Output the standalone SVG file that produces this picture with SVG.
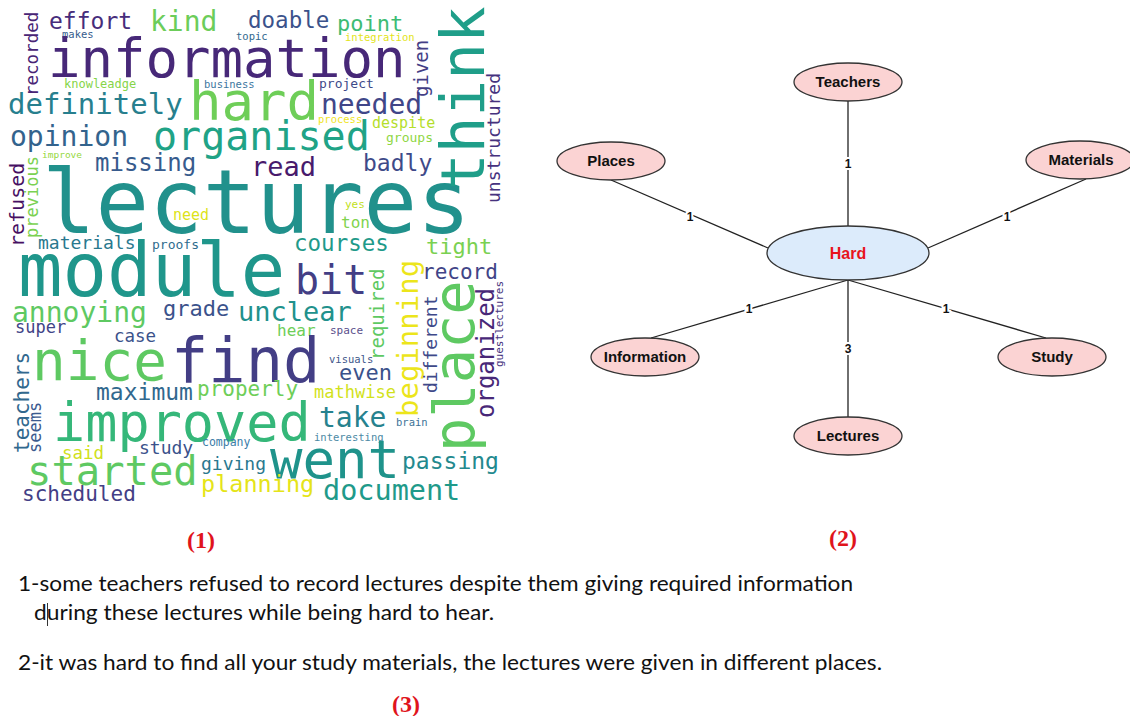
<svg xmlns="http://www.w3.org/2000/svg" width="1130" height="716" viewBox="0 0 1130 716">
<style>
.wc{font-family:"DejaVu Sans Mono","Liberation Mono",monospace}
.nd{fill:#fbd3d3;stroke:#333;stroke-width:1.3}
.hd{fill:#dcebfb;stroke:#333;stroke-width:1.3}
.nt{font-family:"Liberation Sans",Arial,sans-serif;font-weight:bold;font-size:15px;fill:#111;text-anchor:middle}
.ht{font-family:"Liberation Sans",Arial,sans-serif;font-weight:bold;font-size:16px;fill:#e8141c;text-anchor:middle}
.el{stroke:#222;stroke-width:1.3;fill:none}
.lb{font-family:"Liberation Sans",Arial,sans-serif;font-weight:bold;font-size:12px;fill:#111;text-anchor:middle;stroke:#fff;stroke-width:4;paint-order:stroke}
.cap{font-family:"Liberation Serif","Times New Roman",serif;font-weight:bold;font-size:24px;fill:#e0141c;text-anchor:middle}
.body{font-family:Lato,"Open Sans",sans-serif;font-size:21px;fill:#111}
</style>
<rect width="1130" height="716" fill="#fff"/>
<g id="wordcloud" class="wc">
<text x="49" y="29" style="font-size:23px;fill:#472d7b">effort</text>
<text x="150" y="31" style="font-size:28px;fill:#6ccd5a">kind</text>
<text x="248" y="28" style="font-size:22.5px;fill:#3b528b">doable</text>
<text x="337" y="31" style="font-size:22px;fill:#3dbc74">point</text>
<text x="62" y="38" style="font-size:10.5px;fill:#365c8d">makes</text>
<text x="236" y="40" style="font-size:10.5px;fill:#31688e">topic</text>
<text x="345" y="41" style="font-size:10.5px;fill:#e2e418">integration</text>
<text x="48" y="77" style="font-size:54px;fill:#472878">information</text>
<text x="64" y="88" style="font-size:12px;fill:#86d549">knowleadge</text>
<text x="204" y="88" style="font-size:10.5px;fill:#3d77a0">business</text>
<text x="319" y="88" style="font-size:13px;fill:#3e4989">project</text>
<text x="189" y="120" style="font-size:54px;fill:#6ece58">hard</text>
<text x="8" y="114" style="font-size:29px;fill:#277f8e">definitely</text>
<text x="321" y="114" style="font-size:28px;fill:#404688">needed</text>
<text x="318" y="123" style="font-size:10.5px;fill:#f0e51e">process</text>
<text x="372" y="128" style="font-size:15px;fill:#b5de2b">despite</text>
<text x="10" y="146" style="font-size:28px;fill:#33638d">opinion</text>
<text x="153" y="150" style="font-size:40px;fill:#20a386">organised</text>
<text x="386" y="142" style="font-size:13px;fill:#8fd744">groups</text>
<text x="42" y="158" style="font-size:9.5px;fill:#95d840">improve</text>
<text x="95" y="171" style="font-size:24px;fill:#375b8d">missing</text>
<text x="251" y="176" style="font-size:27px;fill:#481a6c">read</text>
<text x="363" y="171" style="font-size:23px;fill:#3e4a89">badly</text>
<text x="42" y="233" style="font-size:89px;fill:#21918c">lectures</text>
<text x="173" y="220" style="font-size:15px;fill:#dde318">need</text>
<text x="345" y="208" style="font-size:11px;fill:#c2df23">yes</text>
<text x="341" y="228" style="font-size:16px;fill:#7fd34e">ton</text>
<text x="38" y="249" style="font-size:18px;fill:#2a788e">materials</text>
<text x="152" y="249" style="font-size:13px;fill:#2f6c8e">proofs</text>
<text x="294" y="251" style="font-size:22.5px;fill:#1f9a8a">courses</text>
<text x="426" y="254" style="font-size:22px;fill:#7ad151">tight</text>
<text x="18" y="296" style="font-size:74px;fill:#1f968b">module</text>
<text x="295" y="294" style="font-size:40px;fill:#433e85">bit</text>
<text x="422" y="279" style="font-size:21px;fill:#414487">record</text>
<text x="12" y="322" style="font-size:28px;fill:#5ec962">annoying</text>
<text x="163" y="316" style="font-size:22px;fill:#3b528b">grade</text>
<text x="238" y="321" style="font-size:27px;fill:#21918c">unclear</text>
<text x="15" y="333" style="font-size:17px;fill:#414487">super</text>
<text x="114" y="342" style="font-size:17.5px;fill:#3b528b">case</text>
<text x="277" y="336" style="font-size:16px;fill:#6ece58">hear</text>
<text x="330" y="334" style="font-size:11px;fill:#5b4f8c">space</text>
<text x="32" y="380" style="font-size:56px;fill:#5ec962">nice</text>
<text x="171" y="382" style="font-size:62px;fill:#433e85">find</text>
<text x="329" y="363" style="font-size:10.5px;fill:#41578b">visuals</text>
<text x="339" y="380" style="font-size:22px;fill:#3b528b">even</text>
<text x="96" y="400" style="font-size:23px;fill:#31688e">maximum</text>
<text x="197" y="396" style="font-size:21px;fill:#6ece58">properly</text>
<text x="314" y="398" style="font-size:17px;fill:#d2e21b">mathwise</text>
<text x="53" y="441" style="font-size:53.5px;fill:#35b779">improved</text>
<text x="319" y="427" style="font-size:28px;fill:#26828e">take</text>
<text x="396" y="426" style="font-size:10.5px;fill:#3d7397">brain</text>
<text x="314" y="441" style="font-size:10.5px;fill:#4c8aa5">interesting</text>
<text x="202" y="446" style="font-size:11.5px;fill:#3b7da8">company</text>
<text x="139" y="454" style="font-size:18px;fill:#3b528b">study</text>
<text x="62" y="459" style="font-size:17.5px;fill:#d0e11c">said</text>
<text x="270" y="478" style="font-size:54px;fill:#1f938b">went</text>
<text x="27" y="485" style="font-size:40.5px;fill:#5ec962">started</text>
<text x="201" y="470" style="font-size:18px;fill:#2a788e">giving</text>
<text x="402" y="469" style="font-size:23px;fill:#23898e">passing</text>
<text x="22" y="501" style="font-size:21px;fill:#433e85">scheduled</text>
<text x="201" y="492" style="font-size:23.5px;fill:#e5e419">planning</text>
<text x="323" y="500" style="font-size:28.5px;fill:#1f9a8a">document</text>
<text transform="translate(38,96) rotate(-90)" style="font-size:17.5px;fill:#482475">recorded</text>
<text transform="translate(428,97) rotate(-90)" style="font-size:19px;fill:#433e85">given</text>
<text transform="translate(484,190) rotate(-90)" style="font-size:61px;fill:#1f9e89">think</text>
<text transform="translate(500,203) rotate(-90)" style="font-size:18px;fill:#46327e">unstructured</text>
<text transform="translate(24,247) rotate(-90)" style="font-size:20px;fill:#471063">refused</text>
<text transform="translate(38,238) rotate(-90)" style="font-size:17px;fill:#7ad151">previous</text>
<text transform="translate(418,417) rotate(-90)" style="font-size:29px;fill:#ece51b">beginning</text>
<text transform="translate(384,360) rotate(-90)" style="font-size:19px;fill:#5ec962">required</text>
<text transform="translate(437,393) rotate(-90)" style="font-size:18px;fill:#3e4989">different</text>
<text transform="translate(474,452) rotate(-90)" style="font-size:57px;fill:#5ec962">place</text>
<text transform="translate(494,418) rotate(-90)" style="font-size:24px;fill:#482878">organized</text>
<text transform="translate(503,367) rotate(-90)" style="font-size:11px;fill:#46337e">guestlectures</text>
<text transform="translate(29,453) rotate(-90)" style="font-size:21px;fill:#31688e">teachers</text>
<text transform="translate(41,453) rotate(-90)" style="font-size:17px;fill:#3c5b8f">seems</text>
</g>
<g id="connectors">
<line class="el" x1="848" y1="101" x2="848" y2="226"/>
<line class="el" x1="611" y1="180" x2="768" y2="248"/>
<line class="el" x1="1086" y1="179" x2="928" y2="248"/>
<line class="el" x1="651" y1="338" x2="848" y2="280"/>
<line class="el" x1="1046" y1="338" x2="848" y2="280"/>
<line class="el" x1="848" y1="417" x2="848" y2="280"/>
<text class="lb" x="848" y="168">1</text>
<text class="lb" x="690" y="221">1</text>
<text class="lb" x="1007" y="221">1</text>
<text class="lb" x="749" y="313">1</text>
<text class="lb" x="946" y="313">1</text>
<text class="lb" x="848" y="353">3</text>
</g>
<g id="node-hard"><ellipse class="hd" cx="848" cy="253" rx="81" ry="27"/><text class="ht" x="848" y="259">Hard</text></g>
<g id="node-teachers"><ellipse class="nd" cx="848" cy="82" rx="54" ry="19"/><text class="nt" x="848" y="87">Teachers</text></g>
<g id="node-places"><ellipse class="nd" cx="611" cy="161" rx="54" ry="19"/><text class="nt" x="611" y="166">Places</text></g>
<g id="node-materials"><ellipse class="nd" cx="1080" cy="160" rx="54" ry="19"/><text class="nt" x="1081" y="165">Materials</text></g>
<g id="node-information"><ellipse class="nd" cx="645" cy="357" rx="54" ry="19"/><text class="nt" x="645" y="362">Information</text></g>
<g id="node-study"><ellipse class="nd" cx="1052" cy="357" rx="54" ry="19"/><text class="nt" x="1052" y="362">Study</text></g>
<g id="node-lectures"><ellipse class="nd" cx="848" cy="436" rx="54" ry="19"/><text class="nt" x="848" y="441">Lectures</text></g>
<g id="captions">
<text class="cap" x="201" y="548">(1)</text>
<text class="cap" x="843" y="546">(2)</text>
<text class="cap" x="406" y="712">(3)</text>
<text class="body" x="18" y="591" textLength="835" lengthAdjust="spacingAndGlyphs">1-some teachers refused to record lectures despite them giving required information</text>
<text class="body" x="34" y="620" textLength="460" lengthAdjust="spacingAndGlyphs">during these lectures while being hard to hear.</text>
<line x1="47.5" y1="603" x2="47.5" y2="626" stroke="#333" stroke-width="1"/>
<text class="body" x="18" y="670" textLength="864" lengthAdjust="spacingAndGlyphs">2-it was hard to find all your study materials, the lectures were given in different places.</text>
</g>
</svg>
